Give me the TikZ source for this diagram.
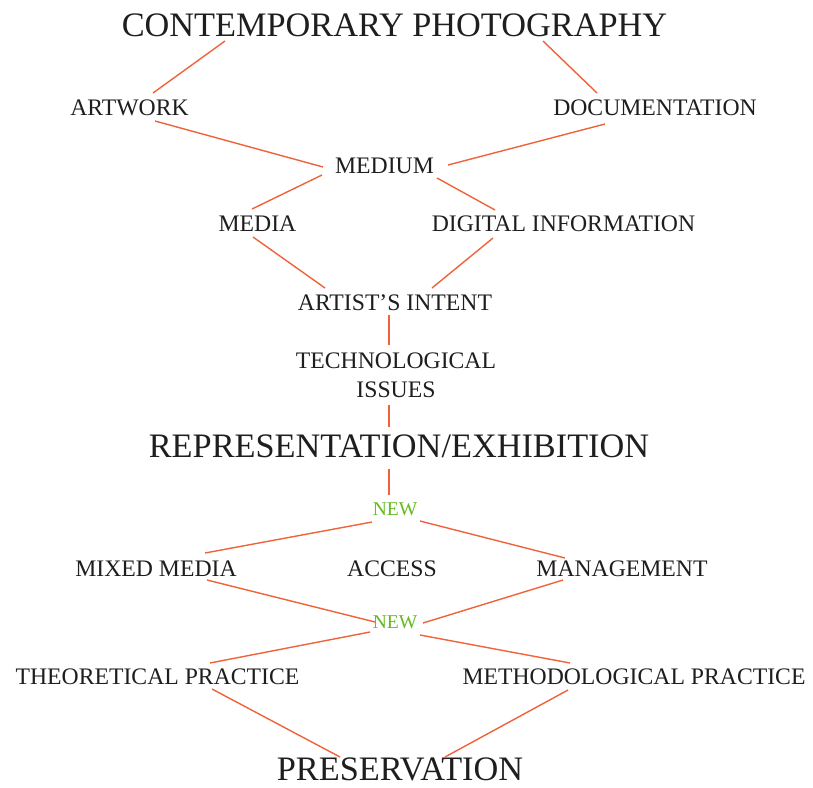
\documentclass[tikz,border=0pt]{standalone}
\usepackage{fontspec}
\setmainfont{Liberation Serif}
\definecolor{linkc}{RGB}{240,98,58}
\definecolor{newc}{RGB}{98,186,30}
\definecolor{txt}{RGB}{30,30,30}
\tikzset{
  lbl/.style={inner sep=0pt, anchor=base, text=txt, font=\fontsize{23.7}{29}\selectfont},
  big/.style={inner sep=0pt, anchor=base, text=txt, font=\fontsize{34.3}{40}\selectfont},
  newlbl/.style={inner sep=0pt, anchor=base, text=newc, font=\fontsize{19.5}{22}\selectfont},
  link/.style={draw=linkc, line width=1.4pt}
}
\begin{document}
\begin{tikzpicture}[x=1pt,y=-1pt]
\useasboundingbox (0,0) rectangle (813,787);
\node[big] (cp) at (394.5,36.5) {CONTEMPORARY PHOTOGRAPHY};
\node[lbl] (art) at (129.5,115) {ARTWORK};
\node[lbl] (doc) at (655,115) {DOCUMENTATION};
\node[lbl] (med) at (384.5,173) {MEDIUM};
\node[lbl] (media) at (257.5,231) {MEDIA};
\node[lbl] (dig) at (563.5,231) {DIGITAL INFORMATION};
\node[lbl] (intent) at (395,310) {ARTIST’S INTENT};
\node[lbl, align=center] (tech) at (396,397) {TECHNOLOGICAL\\ISSUES};
\node[big] (rep) at (399,457.5) {REPRESENTATION/EXHIBITION};
\node[newlbl] (new1) at (395,515) {NEW};
\node[lbl] (mixed) at (156,576) {MIXED MEDIA};
\node[lbl] (access) at (392,576) {ACCESS};
\node[lbl] (man) at (622,576) {MANAGEMENT};
\node[newlbl] (new2) at (395,628) {NEW};
\node[lbl] (theo) at (157.5,684) {THEORETICAL PRACTICE};
\node[lbl] (meth) at (634,684) {METHODOLOGICAL PRACTICE};
\node[big] (pres) at (400,780) {PRESERVATION};

\draw[link] ([shift={(-169.5,4.5)}]cp.base) -- ([shift={(23.5,-22)}]art.base);
\draw[link] ([shift={(148.5,4.5)}]cp.base) -- ([shift={(-58,-22)}]doc.base);
\draw[link] ([shift={(25.5,6)}]art.base) -- ([shift={(-61.5,-6)}]med.base);
\draw[link] ([shift={(-50,9)}]doc.base) -- ([shift={(63.5,-8)}]med.base);
\draw[link] ([shift={(-62.5,2)}]med.base) -- ([shift={(-5.5,-22)}]media.base);
\draw[link] ([shift={(52.5,5)}]med.base) -- ([shift={(-68.5,-21)}]dig.base);
\draw[link] ([shift={(-4.5,6)}]media.base) -- ([shift={(-70,-22)}]intent.base);
\draw[link] ([shift={(-70.5,7)}]dig.base) -- ([shift={(37,-22)}]intent.base);
\draw[link] ([shift={(-6,5)}]intent.base) -- ([shift={(-7,-52)}]tech.base);
\draw[link] ([shift={(-7,8)}]tech.base) -- ([shift={(-10,-30.5)}]rep.base);
\draw[link] ([shift={(-10,11.5)}]rep.base) -- ([shift={(-6,-20)}]new1.base);
\draw[link] ([shift={(-23,7)}]new1.base) -- ([shift={(49,-23)}]mixed.base);
\draw[link] ([shift={(25,6)}]new1.base) -- ([shift={(-57,-18)}]man.base);
\draw[link] ([shift={(51,4)}]mixed.base) -- ([shift={(-20,-6)}]new2.base);
\draw[link] ([shift={(-59,4)}]man.base) -- ([shift={(28,-5)}]new2.base);
\draw[link] ([shift={(-25,4)}]new2.base) -- ([shift={(52.5,-21)}]theo.base);
\draw[link] ([shift={(25,7)}]new2.base) -- ([shift={(-64,-21)}]meth.base);
\draw[link] ([shift={(54.5,5)}]theo.base) -- ([shift={(-60,-23)}]pres.base);
\draw[link] ([shift={(-66,6)}]meth.base) -- ([shift={(45,-23)}]pres.base);
\end{tikzpicture}
\end{document}
